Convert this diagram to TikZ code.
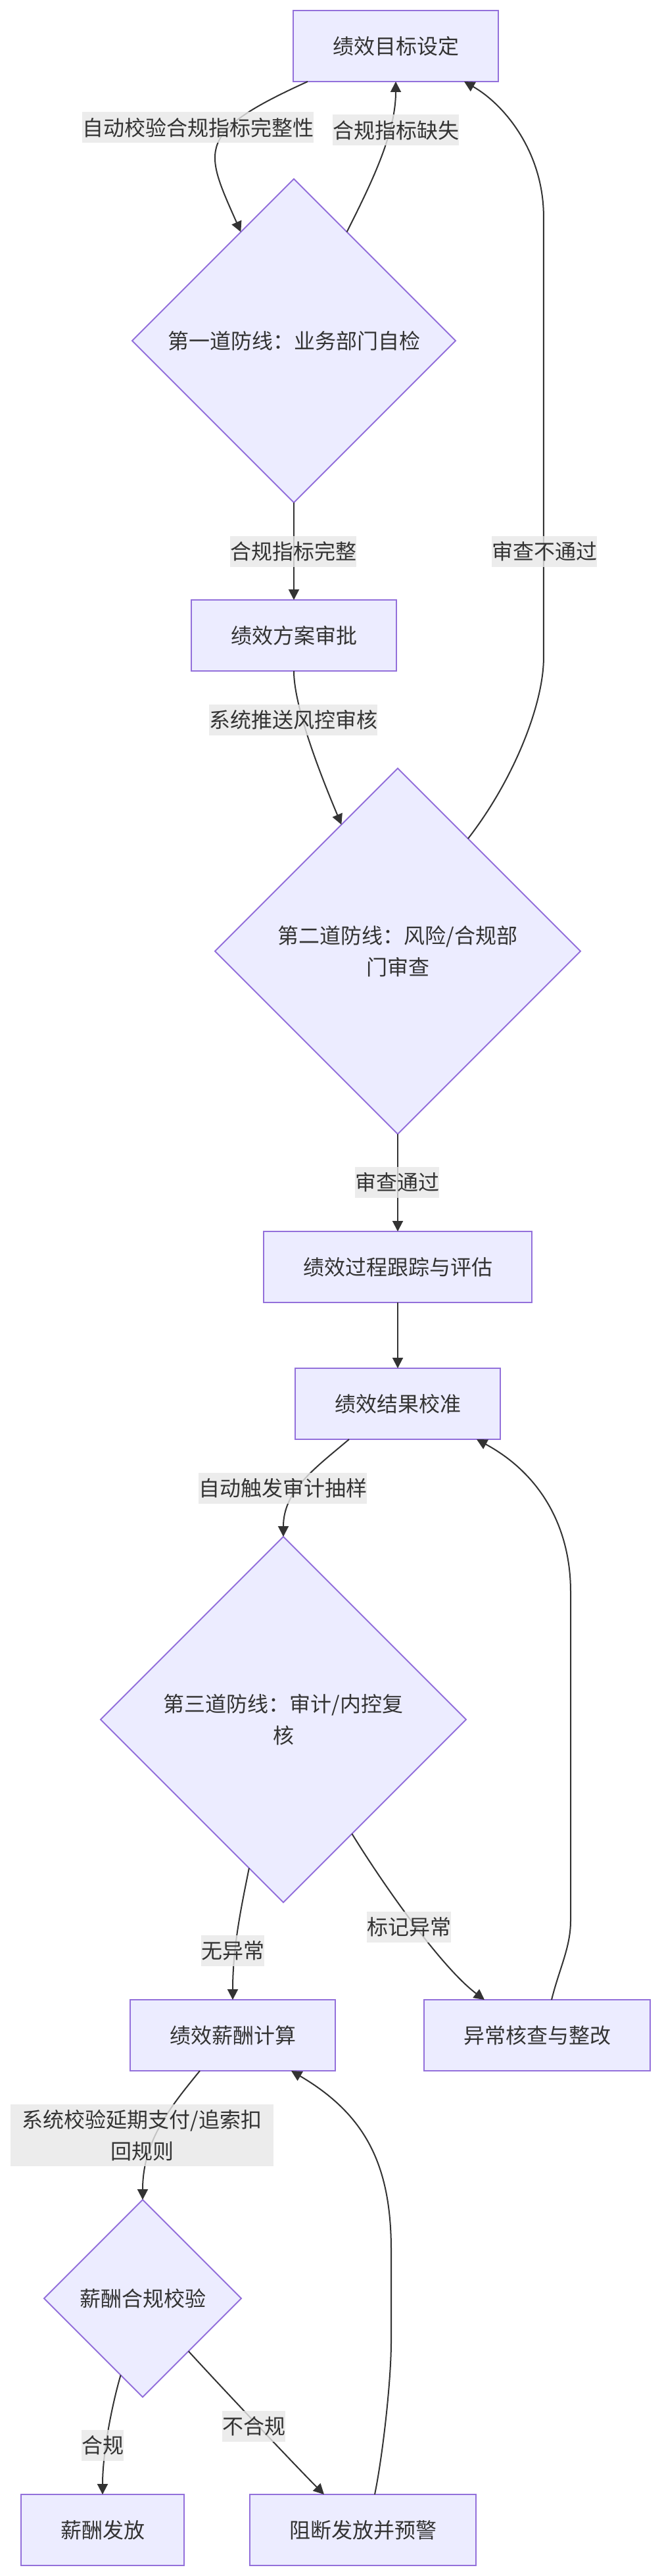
\documentclass[tikz,border=0pt]{standalone}
\usepackage{fontspec}
\setmainfont{Noto Sans CJK SC}
\usetikzlibrary{shapes.geometric, arrows.meta, positioning, calc}
\usepackage{xcolor}
\definecolor{nodefill}{HTML}{ECECFF}
\definecolor{nodeline}{HTML}{9370DB}
\definecolor{edgeline}{HTML}{333333}
\definecolor{labelbg}{HTML}{E8E8E8}
\definecolor{textc}{HTML}{333333}
\newcommand{\chartfont}{\fontsize{16pt}{24pt}\selectfont}

\begin{document}
\begin{tikzpicture}[
    node distance=74pt,
    font=\chartfont,
    box/.style={rectangle, minimum height=54pt, inner xsep=30pt, inner ysep=0pt, outer sep=0pt, text centered, fill=nodefill, draw=nodeline, line width=1pt, text=textc},
    decision/.style={diamond, shape aspect=1, inner sep=0pt, outer sep=0pt, align=center, fill=nodefill, draw=nodeline, line width=1pt, text=textc},
    lab/.style={fill=labelbg, fill opacity=0.8, text opacity=1, text=textc, inner sep=0pt, minimum height=23.5pt, align=center},
    arr/.style={-{Triangle[length=8pt, width=8pt]}, line width=1pt, edgeline},
]

\path[use as bounding box, fill=white] (0,0) rectangle (503pt,-1958pt);

\node[box] (goal) at (301pt,-35pt) {绩效目标设定};
\node[decision, minimum size=246pt, below=of goal, xshift=-77.5pt] (check1) {第一道防线：业务部门自检};
\node[box, below=of check1] (plan) {绩效方案审批};
\node[decision, minimum size=278pt, below=of plan, xshift=79pt] (check2) {第二道防线：风险/合规部\\门审查};
\node[box, below=of check2] (track) {绩效过程跟踪与评估};
\node[box, below=50pt of track] (calib) {绩效结果校准};
\node[decision, minimum size=278pt, below=of calib, xshift=-87pt] (check3) {第三道防线：审计/内控复\\核};
\node[box, below=of check3, xshift=-38.5pt] (pay) {绩效薪酬计算};
\node[box, right=67.5pt of pay] (fix) {异常核查与整改};
\node[decision, minimum size=150pt, below=98pt of pay, xshift=-68.5pt] (check4) {薪酬合规校验};
\node[box, below=of check4, xshift=-30.5pt] (release) {薪酬发放};
\node[box, right=50pt of release] (block) {阻断发放并预警};

% connectors
\draw[arr] ($(goal.south)+(-67pt,0)$) .. controls +(-86pt,-39pt) and +(-28pt,63pt) .. (check1.116);
\draw[arr] (check1.64) .. controls +(18pt,36pt) and +(0,-40pt) .. (goal.south);
\draw[arr] (check1) -- (plan);
\draw[arr] (plan.south) .. controls +(0,-30pt) and +(-11.5pt,27.5pt) .. (check2.114);
\draw[arr] (check2.58) .. controls +(35pt,45pt) and +(0,-35pt) .. ++(57.5pt,137.5pt) -- ++(0,335pt) .. controls +(0,50pt) and +(30pt,-17pt) .. ($(goal.south)+(52pt,0)$);
\draw[arr] (check2) -- (track);
\draw[arr] (track) -- (calib);
\draw[arr] ($(calib.south)+(-37pt,0)$) .. controls +(-26pt,-22pt) and +(0,35pt) .. (check3.north);
\draw[arr] (check3.257) .. controls +(-6pt,-30pt) and +(0,40pt) .. (pay.north);
\draw[arr] (check3.301) .. controls +(26pt,-42pt) and +(-32pt,24pt) .. ($(fix.north)+(-40pt,0)$);
\draw[arr] ($(fix.north)+(11pt,0)$) .. controls +(6pt,24pt) and +(0,-20pt) .. ++(14.5pt,60pt) -- ++(0,250pt) .. controls +(0,50pt) and +(48pt,-26pt) .. ($(calib.south)+(60pt,0)$);
\draw[arr] ($(pay.south)+(-25pt,0)$) .. controls +(-22pt,-27pt) and +(0,45pt) .. (check4.north);
\draw[arr] (check4.254) .. controls +(-7pt,-24pt) and +(0,31pt) .. (release.north);
\draw[arr] (check4.311) .. controls +(20pt,-22pt) and +(-21pt,21pt) .. ($(block.north)+(-29.5pt,0)$);
\draw[arr] ($(block.north)+(9pt,0)$) .. controls +(6pt,29pt) and +(0,-30pt) .. ++(12.5pt,116pt) -- ++(0,70pt) .. controls +(0,65pt) and +(56pt,-33pt) .. ($(pay.south)+(44.5pt,0)$);

% edge labels
\node[lab] (autochk) at (150.5pt,-97pt) {自动校验合规指标完整性};
\node[lab] (missing) at (301pt,-99pt) {合规指标缺失};
\node[lab] (complete) at (223pt,-419pt) {合规指标完整};
\node[lab] (reject) at (414pt,-419pt) {审查不通过};
\node[lab] (push) at (223pt,-547pt) {系统推送风控审核};
\node[lab] (pass) at (302pt,-898.5pt) {审查通过};
\node[lab] (audit) at (215pt,-1131pt) {自动触发审计抽样};
\node[lab] (normal) at (177pt,-1482.5pt) {无异常};
\node[lab] (flag) at (311pt,-1464.5pt) {标记异常};
\node[lab, text width=200pt, minimum height=47pt] (rules) at (108pt,-1623pt) {系统校验延期支付/追索扣\\回规则};
\node[lab] (ok) at (78pt,-1858.5pt) {合规};
\node[lab] (notok) at (193pt,-1844pt) {不合规};

\end{tikzpicture}
\end{document}
